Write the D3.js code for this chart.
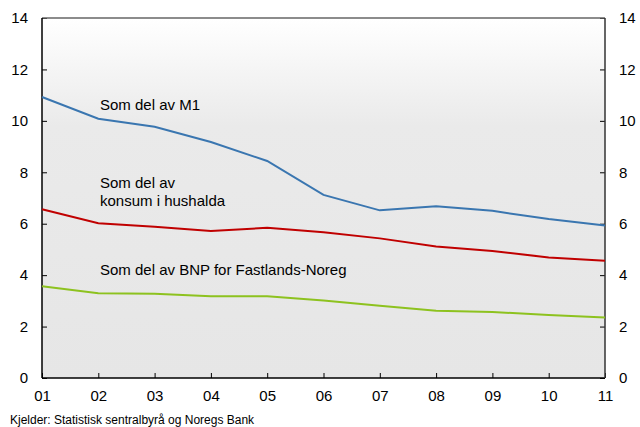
<!DOCTYPE html>
<html>
<head>
<meta charset="utf-8">
<script src="https://cdn.jsdelivr.net/npm/d3@7"></script>
<style>
  body { margin: 0; background: #fff; }
  text { font-family: "Liberation Sans", Arial, sans-serif; fill: #000; }
</style>
</head>
<body>
<script>
// -----------------------------
// Data
// -----------------------------
const YEARS = ["01", "02", "03", "04", "05", "06", "07", "08", "09", "10", "11"];
const M1_SHARE = [10.93, 10.08, 9.77, 9.18, 8.44, 7.12, 6.52, 6.68, 6.5, 6.18, 5.93];
const CONSUMPTION_SHARE = [6.56, 6.02, 5.88, 5.72, 5.84, 5.67, 5.43, 5.11, 4.94, 4.69, 4.56];
const GDP_SHARE = [3.57, 3.3, 3.28, 3.18, 3.18, 3.01, 2.81, 2.62, 2.57, 2.45, 2.35];
const Y_TICKS = [0, 2, 4, 6, 8, 10, 12, 14];
const SOURCE = "Kjelder: Statistisk sentralbyrå og Noregs Bank";

// -----------------------------
// SVG Setup
// -----------------------------
const WIDTH = 640;
const HEIGHT = 427;
const PLOT = { left: 42, right: 605, top: 18, bottom: 378 };

const svg = d3.select("body")
  .append("svg")
  .attr("width", WIDTH)
  .attr("height", HEIGHT)
  .attr("viewBox", `0 0 ${WIDTH} ${HEIGHT}`);

// Background gradient inside the plot area
const grad = svg.append("defs").append("linearGradient")
  .attr("id", "bg")
  .attr("x1", 0).attr("y1", 0).attr("x2", 0).attr("y2", 1);
grad.append("stop").attr("offset", "0%").attr("stop-color", "#ffffff");
grad.append("stop").attr("offset", "30%").attr("stop-color", "#eaeaea");
grad.append("stop").attr("offset", "100%").attr("stop-color", "#e6e6e6");

const x = d3.scalePoint()
  .domain(YEARS)
  .range([PLOT.left, PLOT.right]);

const y = d3.scaleLinear()
  .domain([0, 14])
  .range([PLOT.bottom, PLOT.top]);

svg.append("rect")
  .attr("x", PLOT.left)
  .attr("y", PLOT.top)
  .attr("width", PLOT.right - PLOT.left)
  .attr("height", PLOT.bottom - PLOT.top)
  .attr("fill", "url(#bg)");

// -----------------------------
// Axes
// -----------------------------
function styleAxis(g) {
  g.select(".domain").remove();
  g.selectAll(".tick line").attr("stroke", "#000").attr("stroke-width", 1);
  g.selectAll(".tick text")
    .attr("font-size", 15)
    .style("font-family", "Liberation Sans, Arial, sans-serif");
}

svg.append("g")
  .attr("transform", `translate(${PLOT.left},0)`)
  .call(d3.axisLeft(y).tickValues(Y_TICKS).tickSize(-5).tickPadding(14))
  .call(styleAxis);

svg.append("g")
  .attr("transform", `translate(${PLOT.right},0)`)
  .call(d3.axisRight(y).tickValues(Y_TICKS).tickSize(-5).tickPadding(14))
  .call(styleAxis);

svg.append("g")
  .attr("transform", `translate(0,${PLOT.bottom})`)
  .call(d3.axisBottom(x).tickSize(-5).tickPadding(12))
  .call(styleAxis);

// frame lines
svg.append("line")
  .attr("x1", PLOT.left).attr("x2", PLOT.right)
  .attr("y1", PLOT.top).attr("y2", PLOT.top)
  .attr("stroke", "#666").attr("stroke-width", 1.5);
svg.append("line")
  .attr("x1", PLOT.left).attr("x2", PLOT.right)
  .attr("y1", PLOT.bottom).attr("y2", PLOT.bottom)
  .attr("stroke", "#000").attr("stroke-width", 1.5);
svg.append("line")
  .attr("x1", PLOT.left).attr("x2", PLOT.left)
  .attr("y1", PLOT.top).attr("y2", PLOT.bottom)
  .attr("stroke", "#000").attr("stroke-width", 1.5);
svg.append("line")
  .attr("x1", PLOT.right).attr("x2", PLOT.right)
  .attr("y1", PLOT.top).attr("y2", PLOT.bottom)
  .attr("stroke", "#333").attr("stroke-width", 1.5);

// -----------------------------
// Lines
// -----------------------------
const line = d3.line()
  .x((d, i) => x(YEARS[i]))
  .y(d => y(d));

const series = [
  { values: M1_SHARE, color: "#3a76b0" },
  { values: CONSUMPTION_SHARE, color: "#c00000" },
  { values: GDP_SHARE, color: "#8dc21f" }
];

svg.selectAll("path.series")
  .data(series)
  .enter()
  .append("path")
  .attr("class", "series")
  .attr("d", d => line(d.values))
  .attr("fill", "none")
  .attr("stroke", d => d.color)
  .attr("stroke-width", 2);

// -----------------------------
// Labels
// -----------------------------
const labels = [
  { lines: ["Som del av M1"], x: 100, y: 110 },
  { lines: ["Som del av", "konsum i hushalda"], x: 100, y: 188 },
  { lines: ["Som del av BNP for Fastlands-Noreg"], x: 100, y: 275 }
];

labels.forEach(l => {
  const t = svg.append("text")
    .attr("x", l.x)
    .attr("y", l.y)
    .attr("font-size", 15);
  l.lines.forEach((s, i) => {
    t.append("tspan")
      .attr("x", l.x)
      .attr("dy", i === 0 ? 0 : 18)
      .text(s);
  });
});

svg.append("text")
  .attr("x", 10)
  .attr("y", 424)
  .attr("font-size", 12)
  .text(SOURCE);
</script>
</body>
</html>
